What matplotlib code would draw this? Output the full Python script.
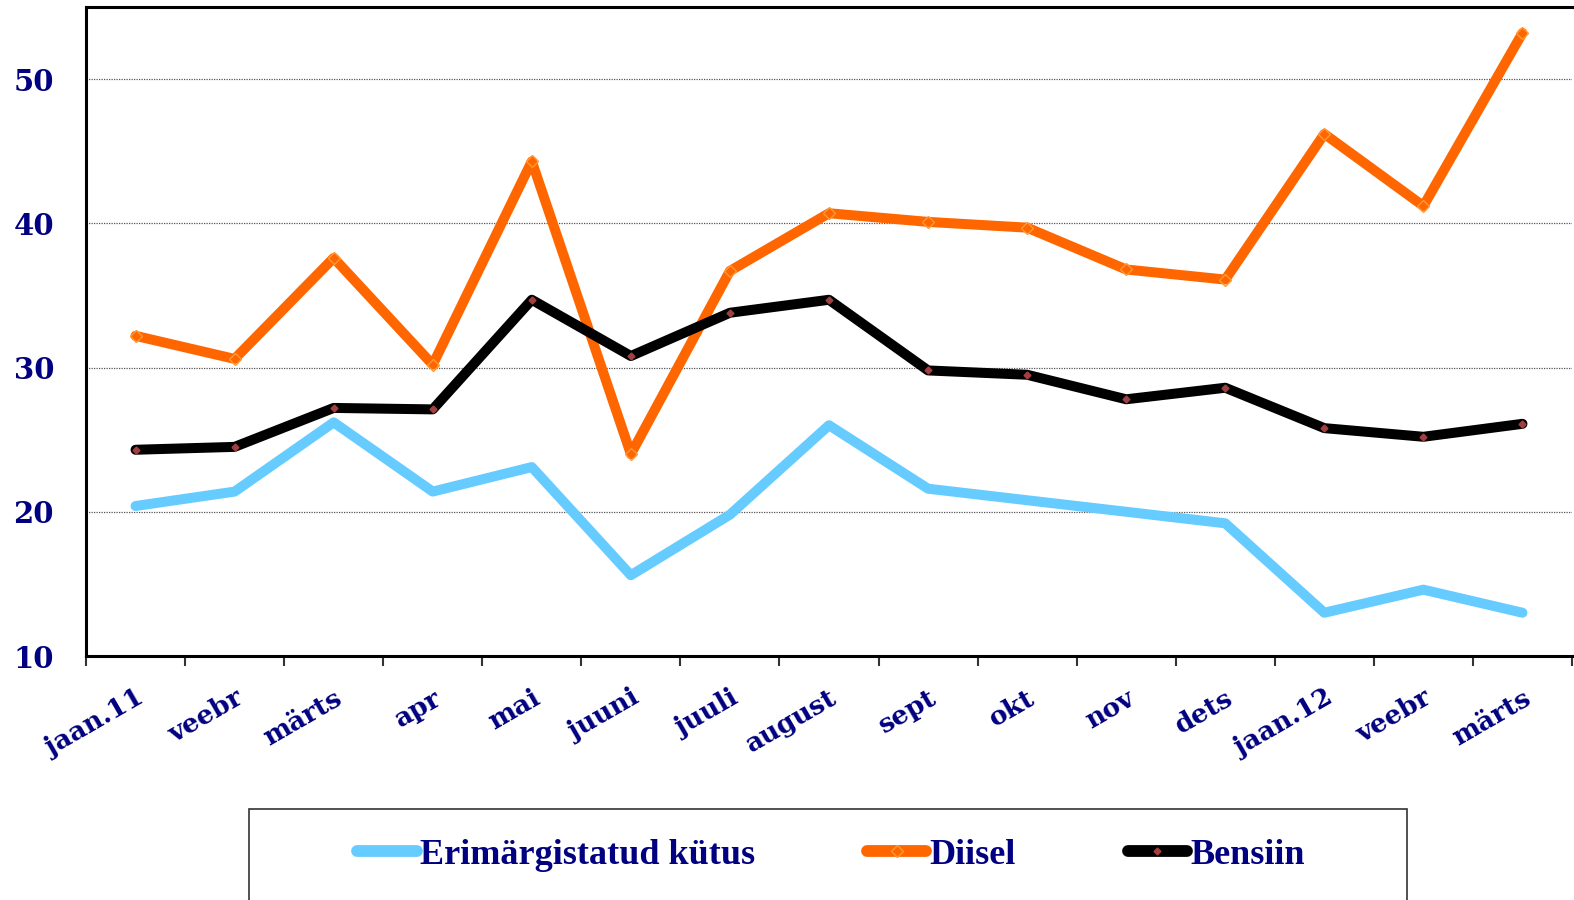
import matplotlib
matplotlib.use("Agg")
import matplotlib.pyplot as plt
from matplotlib.patches import Rectangle

months = ["jaan.11", "veebr", "märts", "apr", "mai", "juuni", "juuli", "august",
          "sept", "okt", "nov", "dets", "jaan.12", "veebr", "märts"]
erimargistatud = [20.4, 21.4, 26.2, 21.4, 23.1, 15.6, 19.8, 26.0,
                  21.6, 20.8, 20.0, 19.2, 13.0, 14.6, 13.0]
diisel = [32.2, 30.6, 37.6, 30.2, 44.3, 24.0, 36.7, 40.7,
          40.1, 39.7, 36.8, 36.1, 46.2, 41.2, 53.2]
bensiin = [24.3, 24.5, 27.2, 27.1, 34.7, 30.8, 33.8, 34.7,
           29.8, 29.5, 27.8, 28.6, 25.8, 25.2, 26.1]
y_ticks = [10, 20, 30, 40, 50]

navy = "#000080"
W, H = 1574, 900

fig = plt.figure(figsize=(W / 100, H / 100), dpi=100)
ax = fig.add_axes([86 / W, 1 - 656 / H, (1572 - 86) / W, (656 - 7) / H])

x = list(range(len(months)))
lw = 7.2
l1, = ax.plot(x, erimargistatud, color="#66CCFF", lw=lw, solid_joinstyle="round",
              solid_capstyle="round", label="Erimärgistatud kütus", zorder=3)
l2, = ax.plot(x, diisel, color="#FF6600", lw=lw, marker="D", ms=6, mfc="none",
              mec="#FF9933", mew=1, solid_joinstyle="round", solid_capstyle="round",
              label="Diisel", zorder=3)
l3, = ax.plot(x, bensiin, color="black", lw=lw, marker="D", ms=3.5, mfc="#A04040",
              mec="#A04040", solid_joinstyle="round", solid_capstyle="round",
              label="Bensiin", zorder=4)

ax.set_xlim(-0.5, len(months) - 0.5)
ax.set_ylim(10, 55)
ax.set_yticks(y_ticks)
ax.yaxis.grid(True, linestyle=(0, (1, 1)), color="#555555", lw=0.9)
ax.set_axisbelow(True)

ax.set_xticks(x)
ax.set_xticks([i - 0.5 for i in range(len(months) + 1)], minor=True)
ax.tick_params(axis="x", which="major", length=0, pad=21)
ax.tick_params(axis="x", which="minor", length=7, width=1.5, color="#333333")
ax.tick_params(axis="y", length=0, pad=23)
ax.set_xticklabels(months, rotation=30, ha="right", rotation_mode="anchor",
                   fontfamily="DejaVu Serif", fontweight="heavy", fontsize=19, color=navy)
for t in ax.get_yticklabels():
    t.set_fontfamily("DejaVu Serif")
    t.set_fontweight("heavy")
    t.set_fontsize(21)
    t.set_color(navy)

for s in ["left", "bottom", "top"]:
    ax.spines[s].set_linewidth(2.2)
    ax.spines[s].set_color("black")
ax.spines["right"].set_visible(False)

# legend box (runs off the bottom of the figure)
fig.patches.append(Rectangle((249 / W, 0 - 0.02), (1407 - 249) / W, (900 - 809) / H + 0.02,
                             transform=fig.transFigure, fill=False, edgecolor="#333333", lw=1.2))
leg = fig.legend(handles=[l1, l2, l3], loc="center", bbox_to_anchor=(831 / W, 1 - 855 / H),
                 ncol=3, frameon=False, handlelength=1.65, handletextpad=0.08, columnspacing=3.1,
                 prop={"family": "Liberation Serif", "weight": "bold", "size": 26},
                 labelcolor=navy)
for h in leg.legend_handles:
    h.set_linewidth(8.5)

fig.savefig("out.png", dpi=100)
